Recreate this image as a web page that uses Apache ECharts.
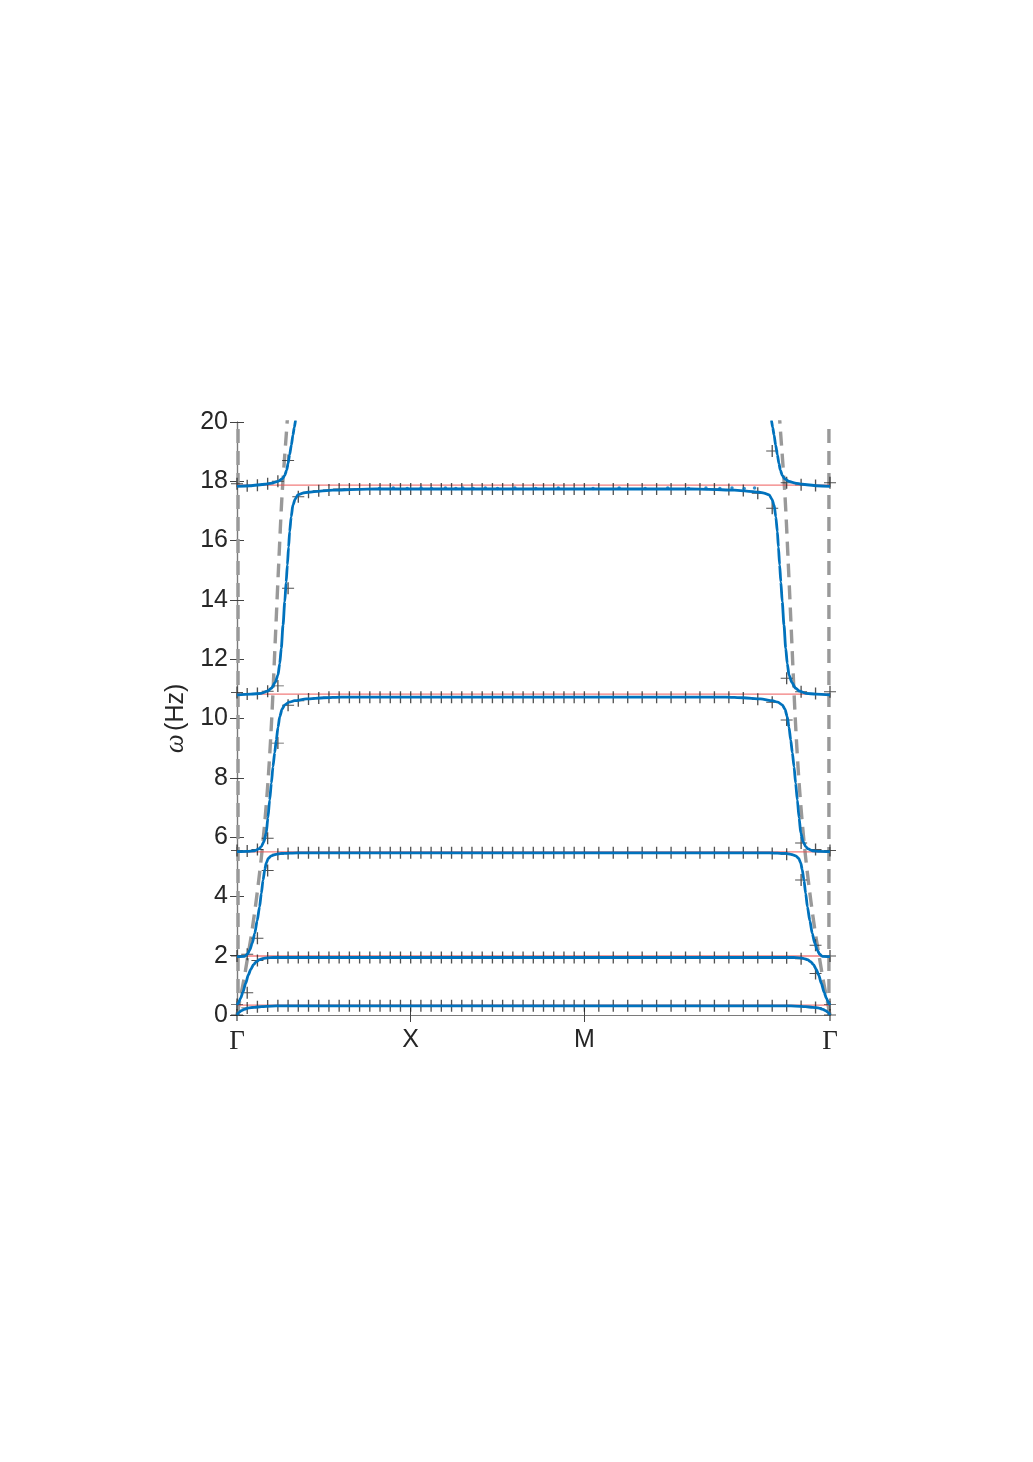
<!DOCTYPE html>
<html>
<head>
<meta charset="utf-8">
<script src="https://cdn.jsdelivr.net/npm/echarts@6/dist/echarts.min.js"></script>
<style>
html,body{margin:0;padding:0;background:#fff;}
#chart{width:1033px;height:1462px;}
</style>
</head>
<body>
<div id="chart"></div>
<script>
// ---- axis data ----
const pathLen = 3.41421;               // Γ-X-M-Γ path length (units of π/a)
const kTickValues = [0, 1, 2, 3.41421];
const kTickLabels = ['Γ', 'X', 'M', 'Γ'];
const yMin = 0, yMax = 20, yStep = 2;

// ---- resonance frequencies (thin red lines) ----
const resonances = [0.33, 1.99, 5.50, 10.82, 17.87];

// ---- analytic dispersion (blue), |k| measured from Γ, frequency in Hz ----
const band1K = [0, 0.010, 0.026, 0.045, 0.063, 0.10, 0.141, 0.20, 0.25];
const band1W = [0, 0.08, 0.15, 0.20, 0.23, 0.26, 0.28, 0.30, 0.31];
const band2K = [0, 0.008, 0.02, 0.033, 0.05, 0.065, 0.08, 0.095, 0.112, 0.13, 0.15, 0.175, 0.21, 0.26];
const band2W = [0.34, 0.40, 0.56, 0.75, 1.07, 1.35, 1.55, 1.70, 1.80, 1.87, 1.90, 1.93, 1.94, 1.94];
const band3K = [0, 0.044, 0.06, 0.073, 0.088, 0.102, 0.116, 0.13, 0.14, 0.15, 0.16, 0.168, 0.18, 0.197, 0.225, 0.255, 0.35];
const band3W = [1.97, 1.98, 2.05, 2.19, 2.42, 2.75, 3.18, 3.65, 4.10, 4.55, 4.90, 5.12, 5.28, 5.37, 5.42, 5.45, 5.47];
const band4K = [0, 0.06, 0.102, 0.125, 0.14, 0.155, 0.168, 0.178, 0.188, 0.198, 0.207, 0.217, 0.226, 0.236, 0.246, 0.26, 0.275, 0.30, 0.332, 0.40, 0.50, 0.60];
const band4W = [5.51, 5.52, 5.54, 5.60, 5.68, 5.85, 6.13, 6.65, 7.25, 7.82, 8.37, 8.85, 9.27, 9.70, 10.06, 10.32, 10.46, 10.55, 10.60, 10.66, 10.70, 10.72];
const band5K = [0, 0.08, 0.14, 0.175, 0.198, 0.22, 0.236, 0.246, 0.255, 0.265, 0.275, 0.283, 0.29, 0.297, 0.303, 0.312, 0.322, 0.335, 0.35, 0.38, 0.409, 0.48, 0.55, 0.70, 0.80];
const band5W = [10.80, 10.82, 10.85, 10.92, 11.02, 11.22, 11.47, 11.85, 12.37, 13.15, 13.94, 14.60, 15.18, 15.78, 16.30, 16.80, 17.20, 17.40, 17.54, 17.60, 17.63, 17.67, 17.70, 17.73, 17.74];
const band6K = [0, 0.075, 0.161, 0.20, 0.236, 0.26, 0.275, 0.286, 0.294, 0.303, 0.313, 0.322, 0.33, 0.338, 0.35];
const band6W = [17.83, 17.85, 17.90, 17.94, 18.00, 18.08, 18.20, 18.38, 18.60, 18.90, 19.22, 19.56, 19.82, 20.07, 20.60];

// ---- sparse sample dots along the analytic curves (blue dots in flat parts) ----
const dotK = [0.82, 0.90, 0.98, 1.06, 1.12, 1.20, 1.26, 1.30, 1.36, 1.43, 1.50, 1.60, 1.72, 1.85, 2.05, 2.20, 2.35, 2.48, 2.60, 2.70, 2.78, 2.85, 2.92, 2.98];
const dotW = [17.76, 17.77, 17.76, 17.77, 17.76, 17.77, 17.76, 17.77, 17.76, 17.77, 17.76, 17.77, 17.76, 17.77, 17.76, 17.77, 17.76, 17.77, 17.76, 17.77, 17.76, 17.77, 17.76, 17.77];

// ---- bare plate dispersion (grey dashed), |k| from Γ ----
const plateK = [0, 0.02, 0.04, 0.06, 0.08, 0.10, 0.12, 0.14, 0.16, 0.18, 0.20, 0.22, 0.24, 0.26, 0.29, 0.30];
const plateW = [0, 0.6, 1.2, 1.9, 2.6, 3.4, 4.3, 5.3, 6.5, 8.0, 10.0, 12.6, 15.2, 17.6, 20.1, 21.0];
const wallK = [0.006, 3.408];           // near-vertical dashed branches at Γ

// ---- numerical (FEM) eigenfrequencies, black "+" ----
const kSamples = [0, 0.0588, 0.1176, 0.1765, 0.2353, 0.2941, 0.3529, 0.4118, 0.4706, 0.5294, 0.5882, 0.6471, 0.7059, 0.7647, 0.8235, 0.8824, 0.9412, 1.0,
  1.0588, 1.1176, 1.1765, 1.2353, 1.2941, 1.3529, 1.4118, 1.4706, 1.5294, 1.5882, 1.6471, 1.7059, 1.7647, 1.8235, 1.8824, 1.9412, 2.0,
  2.0832, 2.1664, 2.2496, 2.3328, 2.4160, 2.4992, 2.5824, 2.6655, 2.7487, 2.8319, 2.9151, 2.9983, 3.0815, 3.1647, 3.2479, 3.3310, 3.4142];
const fem1 = [0, 0.24, 0.28, 0.30, 0.31, 0.31, 0.31, 0.31, 0.31, 0.31, 0.31, 0.31, 0.31, 0.31, 0.31, 0.31, 0.31, 0.31,
  0.31, 0.31, 0.31, 0.31, 0.31, 0.31, 0.31, 0.31, 0.31, 0.31, 0.31, 0.31, 0.31, 0.31, 0.31, 0.31, 0.31,
  0.31, 0.31, 0.31, 0.31, 0.31, 0.31, 0.31, 0.31, 0.31, 0.31, 0.31, 0.31, 0.31, 0.31, 0.29, 0.25, 0];
const fem2 = [0.35, 0.75, 1.84, 1.92, 1.94, 1.94, 1.94, 1.94, 1.94, 1.94, 1.94, 1.94, 1.94, 1.94, 1.94, 1.94, 1.94, 1.94,
  1.94, 1.94, 1.94, 1.94, 1.94, 1.94, 1.94, 1.94, 1.94, 1.94, 1.94, 1.94, 1.94, 1.94, 1.94, 1.94, 1.94,
  1.94, 1.94, 1.94, 1.94, 1.94, 1.94, 1.94, 1.94, 1.94, 1.94, 1.94, 1.94, 1.94, 1.93, 1.90, 1.40, 0.35];
const fem3 = [1.99, 2.05, 2.59, 4.87, 5.42, 5.45, 5.47, 5.47, 5.47, 5.47, 5.47, 5.47, 5.47, 5.47, 5.47, 5.47, 5.47, 5.47,
  5.47, 5.47, 5.47, 5.47, 5.47, 5.47, 5.47, 5.47, 5.47, 5.47, 5.47, 5.47, 5.47, 5.47, 5.47, 5.47, 5.47,
  5.47, 5.47, 5.47, 5.47, 5.47, 5.47, 5.47, 5.47, 5.47, 5.47, 5.47, 5.47, 5.45, 5.42, 4.55, 2.35, 1.99];
const fem4 = [5.55, 5.53, 5.58, 5.96, 9.17, 10.45, 10.60, 10.66, 10.69, 10.72, 10.72, 10.72, 10.72, 10.72, 10.72, 10.72, 10.72, 10.72,
  10.72, 10.72, 10.72, 10.72, 10.72, 10.72, 10.72, 10.72, 10.72, 10.72, 10.72, 10.72, 10.72, 10.72, 10.72, 10.72, 10.72,
  10.72, 10.72, 10.72, 10.72, 10.72, 10.72, 10.72, 10.72, 10.72, 10.72, 10.69, 10.65, 10.55, 9.95, 5.80, 5.58, 5.55];
const fem5 = [10.88, 10.83, 10.84, 10.92, 11.10, 14.39, 17.48, 17.63, 17.68, 17.71, 17.74, 17.74, 17.74, 17.74, 17.74, 17.74, 17.74, 17.74,
  17.74, 17.74, 17.74, 17.74, 17.74, 17.74, 17.74, 17.74, 17.74, 17.74, 17.74, 17.74, 17.74, 17.74, 17.74, 17.74, 17.74,
  17.74, 17.74, 17.74, 17.74, 17.74, 17.74, 17.74, 17.74, 17.74, 17.72, 17.69, 17.60, 17.09, 11.36, 10.90, 10.84, 10.90];
const fem6 = [17.92, 17.85, 17.87, 17.92, 18.00, 18.70, null, null, null, null, null, null, null, null, null, null, null, null,
  null, null, null, null, null, null, null, null, null, null, null, null, null, null, null, null, null,
  null, null, null, null, null, null, null, null, null, null, null, null, 19.02, 17.95, 17.88, 17.86, 17.95];

// ---------------------------------------------------------------
const BLUE = '#0072BD';
function bandLine(ks, ws) {
  const left = ks.map((k, i) => [k, ws[i]]);
  const right = ks.map((k, i) => [pathLen - k, ws[i]]).reverse();
  return left.concat(right);
}
function plateLine(ks, ws, mirror) {
  return ks.map((k, i) => [mirror ? pathLen - k : k, ws[i]]);
}
const femData = [];
[fem1, fem2, fem3, fem4, fem5, fem6].forEach(arr => {
  arr.forEach((w, i) => { if (w !== null) femData.push([kSamples[i], w]); });
});

const bands = [[band1K, band1W], [band2K, band2W], [band3K, band3W], [band4K, band4W], [band5K, band5W], [band6K, band6W]];

const series = [];
// grey dashed plate dispersion
const dashStyle = { color: '#999999', width: 3.4, type: [14, 8] };
series.push({ type: 'line', data: plateLine(plateK, plateW, false), symbol: 'none', lineStyle: dashStyle, smooth: 0.3, z: 1, silent: true });
series.push({ type: 'line', data: plateLine(plateK, plateW, true), symbol: 'none', lineStyle: dashStyle, smooth: 0.3, z: 1, silent: true });
wallK.forEach(k => {
  series.push({ type: 'line', data: [[k, yMin], [k, yMax]], symbol: 'none', lineStyle: dashStyle, z: 1, silent: true, clip: false });
});
// red resonance lines
resonances.forEach(r => {
  series.push({ type: 'line', data: [[0, r], [pathLen, r]], symbol: 'none', lineStyle: { color: 'rgba(238,80,80,0.75)', width: 1.3 }, z: 2, silent: true });
});
// FEM "+" markers
series.push({
  type: 'scatter', data: femData, symbol: 'path://M8.9,0 h2.2 v20 h-2.2z M0,9.2 h20 v1.6 h-20z', symbolSize: 12,
  itemStyle: { color: '#262626' }, z: 3, silent: true
});
// blue bands
bands.forEach(b => {
  series.push({ type: 'line', data: bandLine(b[0], b[1]), symbol: 'none', smooth: 0.25, smoothMonotone: 'x',
    lineStyle: { color: BLUE, width: 2.8 }, z: 4, silent: true });
});
series.push({ type: 'scatter', data: dotK.map((k, i) => [k, dotW[i]]), symbol: 'circle', symbolSize: 3.5,
  itemStyle: { color: BLUE }, z: 5, silent: true });

const labelFont = 'Liberation Sans, Arial, Helvetica, sans-serif';
const option = {
  animation: false,
  backgroundColor: '#fff',
  grid: { left: 237, right: 203, top: 422, bottom: 447, containLabel: false },
  xAxis: [{
    type: 'value', min: 0, max: pathLen, position: 'bottom',
    axisLine: { show: true, lineStyle: { color: '#7a7a7a', width: 1.2 } },
    axisTick: { show: true, inside: true, length: 7, customValues: [1, 2], lineStyle: { color: '#444', width: 1 } },
    axisLabel: {
      show: true, customValues: kTickValues, showMinLabel: true, showMaxLabel: true, margin: 13,
      formatter: v => {
        let idx = 0, best = 1e9;
        kTickValues.forEach((t, i) => { if (Math.abs(t - v) < best) { best = Math.abs(t - v); idx = i; } });
        const s = kTickLabels[idx];
        return s === 'Γ' ? '{g|Γ}' : '{s|' + s + '}';
      },
      rich: {
        g: { fontFamily: 'Liberation Serif, DejaVu Serif, serif', fontSize: 27, color: '#262626' },
        s: { fontFamily: labelFont, fontSize: 25, color: '#262626' }
      }
    },
    splitLine: { show: false }
  }, {
    type: 'value', min: 0, max: pathLen, position: 'top',
    axisLine: { show: true, lineStyle: { color: '#7a7a7a', width: 1.2 } },
    axisTick: { show: true, inside: true, length: 7, customValues: [1, 2], lineStyle: { color: '#444', width: 1 } },
    axisLabel: { show: false }, splitLine: { show: false }
  }],
  yAxis: [{
    type: 'value', min: yMin, max: yMax, interval: yStep, position: 'left',
    axisLine: { show: true, lineStyle: { color: '#7a7a7a', width: 1.2 } },
    axisTick: { show: true, inside: true, length: 7, lineStyle: { color: '#444', width: 1 } },
    axisLabel: { show: true, margin: 9, fontFamily: labelFont, fontSize: 25, color: '#262626' },
    splitLine: { show: false },
    name: '{w|ω} {n|(Hz)}', nameLocation: 'middle', nameGap: 46, nameRotate: 90,
    nameTextStyle: {
      rich: {
        w: { fontFamily: 'Liberation Serif, DejaVu Serif, serif', fontStyle: 'italic', fontSize: 27, color: '#262626' },
        n: { fontFamily: labelFont, fontSize: 25, color: '#262626' }
      }
    }
  }, {
    type: 'value', min: yMin, max: yMax, interval: yStep, position: 'right',
    axisLine: { show: true, lineStyle: { color: '#7a7a7a', width: 1.2 } },
    axisTick: { show: true, inside: true, length: 7, lineStyle: { color: '#444', width: 1 } },
    axisLabel: { show: false }, splitLine: { show: false }
  }],
  series: series
};
const chart = echarts.init(document.getElementById('chart'), null, { renderer: 'canvas' });
chart.setOption(option);
</script>
</body>
</html>
